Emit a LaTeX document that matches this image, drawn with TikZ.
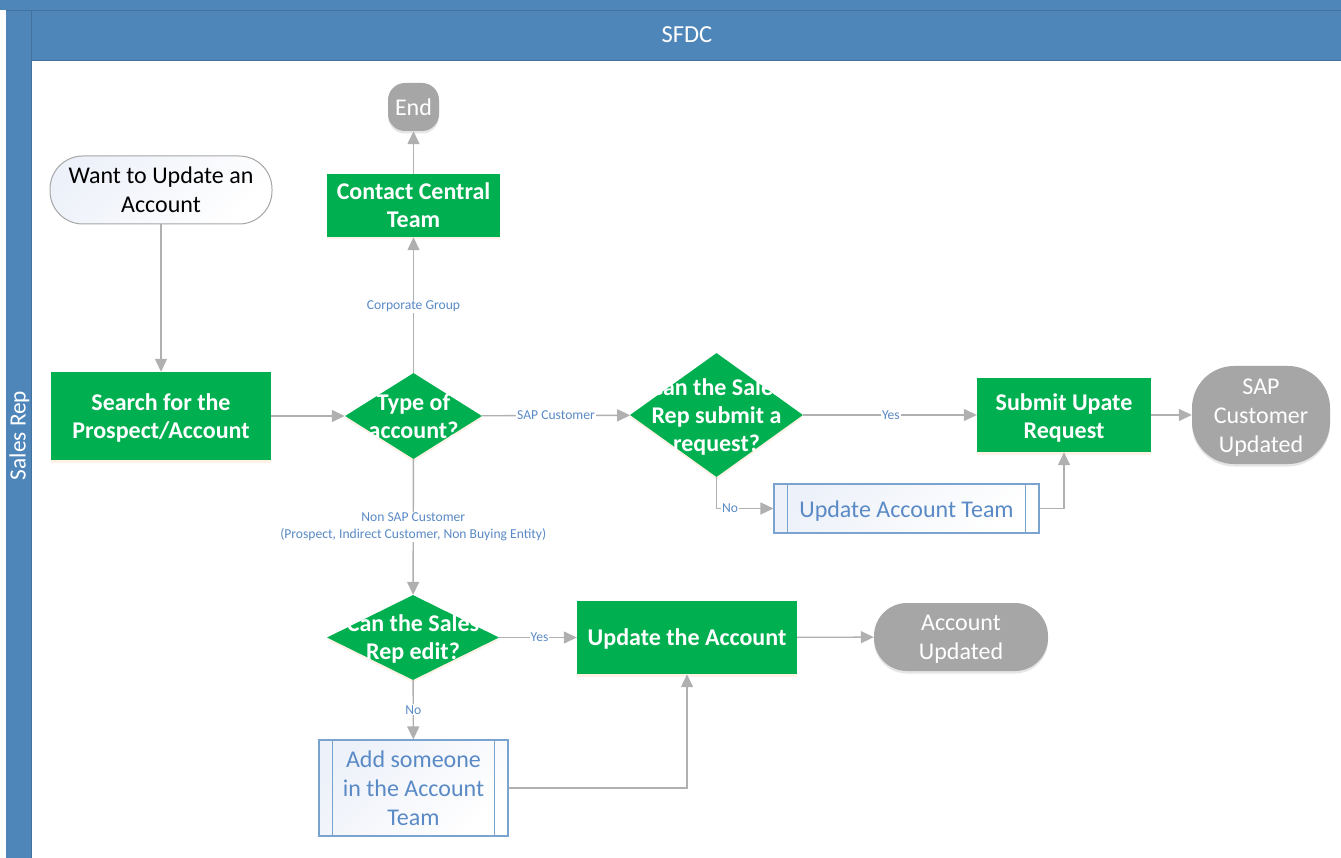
\documentclass[tikz,border=0pt]{standalone}
\usepackage{fontspec}
\setmainfont{Carlito}
\usetikzlibrary{arrows.meta,shapes.geometric,shadows}
\definecolor{lane}{HTML}{4F86BA}
\definecolor{laneline}{HTML}{41719C}
\definecolor{actgreen}{HTML}{00B050}
\definecolor{termgray}{HTML}{A6A6A6}
\definecolor{flowline}{HTML}{B0B0B0}
\definecolor{textblue}{HTML}{5A8AC6}
\definecolor{subedge}{HTML}{7BA3CF}
\definecolor{subfill}{HTML}{EDF1F9}
\newcommand\dn[1]{\rule{0pt}{\dimexpr 18pt+2\dimexpr #1\relax\relax}}
\tikzset{
  softshadow/.style={drop shadow={shadow xshift=0pt,shadow yshift=-2.5pt,fill=orange!20,opacity=.5}},
  bigtext/.style={font=\fontsize{24}{29}\selectfont,align=center},
  boldtext/.style={font=\fontsize{24}{28}\selectfont\bfseries,align=center,text=white},
  actbox/.style={rectangle,fill=actgreen,draw=none,inner sep=0pt,softshadow,boldtext},
  decide/.style={diamond,fill=actgreen,draw=none,inner sep=0pt,softshadow},
  endterm/.style={rectangle,fill=termgray,draw=none,inner sep=0pt,bigtext,text=white,drop shadow={shadow xshift=0pt,shadow yshift=-2.5pt,fill=black!20,opacity=.5}},
  startterm/.style={rectangle,rounded corners=33pt,draw=termgray,line width=1pt,left color=subfill,right color=white,shading angle=45,inner sep=0pt,bigtext,text=black},
  subproc/.style={rectangle,draw=subedge,line width=1.1pt,left color=subfill,right color=white,shading angle=45,inner sep=0pt,bigtext,text=textblue},
  flow/.style={draw=flowline,line width=1.4pt,-{Triangle[length=13pt,width=12pt,fill=flowline]}},
  edgetext/.style={fill=white,inner sep=1pt,text=textblue,font=\fontsize{13.6}{17}\selectfont,align=center}
}
\begin{document}
\begin{tikzpicture}[x=1pt,y=-1pt]
\useasboundingbox (0,0) rectangle (1341,858);
% swimlane frame
\fill[white] (0,0) rectangle (1341,858);
\fill[lane] (0,0) rectangle (1341,60);
\fill[white] (0,10.5) rectangle (6,60);
\fill[lane] (6,10) rectangle (31,858);
\draw[laneline,line width=.8pt] (6,10.5) -- (1341,10.5);
\draw[laneline,line width=.8pt] (31,10.5) -- (31,858);
\draw[laneline,line width=.8pt] (31,60) -- (1341,60);
\node[text=white,font=\fontsize{24.5}{28}\selectfont] (sfdc) at (687,34.5) {SFDC};
\node[text=white,font=\fontsize{23.3}{27}\selectfont,rotate=90] (rep) at (19.5,435.5) {Sales Rep};
% nodes
\node[startterm,minimum width=222pt,minimum height=68pt] (start) at (161,190) {Want to Update an\\Account};
\node[actbox,minimum width=220pt,minimum height=88pt] (search) at (161,416) {\dn{1pt}Search for the\\Prospect/Account};
\node[decide,minimum width=137pt,minimum height=86pt] (type) at (413.5,416) {};
\node[boldtext] (typet) at (413.5,416) {Type of\\account?};
\node[actbox,minimum width=173pt,minimum height=63pt] (contact) at (413.5,205.5) {Contact Central\\Team};
\node[endterm,rounded corners=17pt,minimum width=51pt,minimum height=48pt] (end) at (413.5,107) {End};
\node[decide,minimum width=173pt,minimum height=124pt] (can) at (716.5,415) {};
\node[boldtext] (cant) at (716.5,416.5) {Can the Sales\\Rep submit a\\request?};
\node[actbox,minimum width=174pt,minimum height=74pt] (submit) at (1064,415) {\dn{2pt}Submit Upate\\Request};
\node[endterm,rounded corners=42pt,minimum width=138pt,minimum height=98pt] (sap) at (1261,415) {\dn{1pt}SAP\\Customer\\Updated};
\node[subproc,minimum width=265pt,minimum height=49pt] (team) at (906.5,508.5) {\dn{2pt}Update Account Team};
\node[decide,minimum width=172pt,minimum height=85pt] (edit) at (413,637.5) {};
\node[boldtext] (editt) at (413,638.5) {Can the Sales\\Rep edit?};
\node[actbox,minimum width=220pt,minimum height=73pt] (update) at (687,637.5) {\dn{1pt}Update the Account};
\node[endterm,rounded corners=33pt,minimum width=174pt,minimum height=68pt] (acct) at (961,637) {\dn{1pt}Account\\Updated};
\node[subproc,minimum width=189pt,minimum height=96pt] (add) at (413.5,788) {Add someone\\in the Account\\Team};
% subprocess bars
\draw[subedge,line width=1.1pt] ([xshift=14pt]team.north west) -- ([xshift=14pt]team.south west);
\draw[subedge,line width=1.1pt] ([xshift=-14pt]team.north east) -- ([xshift=-14pt]team.south east);
\draw[subedge,line width=1.1pt] ([xshift=14pt]add.north west) -- ([xshift=14pt]add.south west);
\draw[subedge,line width=1.1pt] ([xshift=-14pt]add.north east) -- ([xshift=-14pt]add.south east);
% connectors
\draw[flow] (start) -- (search);
\draw[flow] (search) -- (type);
\draw[flow] (type) -- node[edgetext,pos=.49] (l1) {Corporate Group} (contact);
\draw[flow] (contact) -- (end);
\draw[flow] (type) -- node[edgetext,pos=.5] (l2) {SAP Customer} (can);
\draw[flow] (can) -- node[edgetext,pos=.505] (l3) {Yes} (submit);
\draw[flow] (submit) -- (sap);
\draw[flow] (can.south) |- node[edgetext,pos=.62] (l4) {No} (team.west);
\draw[flow] (team.east) -| (submit.south);
\draw[flow] (type) -- node[edgetext,pos=.5] (l5) {Non SAP Customer\\(Prospect, Indirect Customer, Non Buying Entity)} (edit);
\draw[flow] (edit) -- node[edgetext,pos=.52] (l6) {Yes} (update);
\draw[flow] (update) -- (acct);
\draw[flow] (edit) -- node[edgetext,pos=.5] (l7) {No} (add);
\draw[flow] (add.east) -| (update.south);
\end{tikzpicture}
\end{document}
